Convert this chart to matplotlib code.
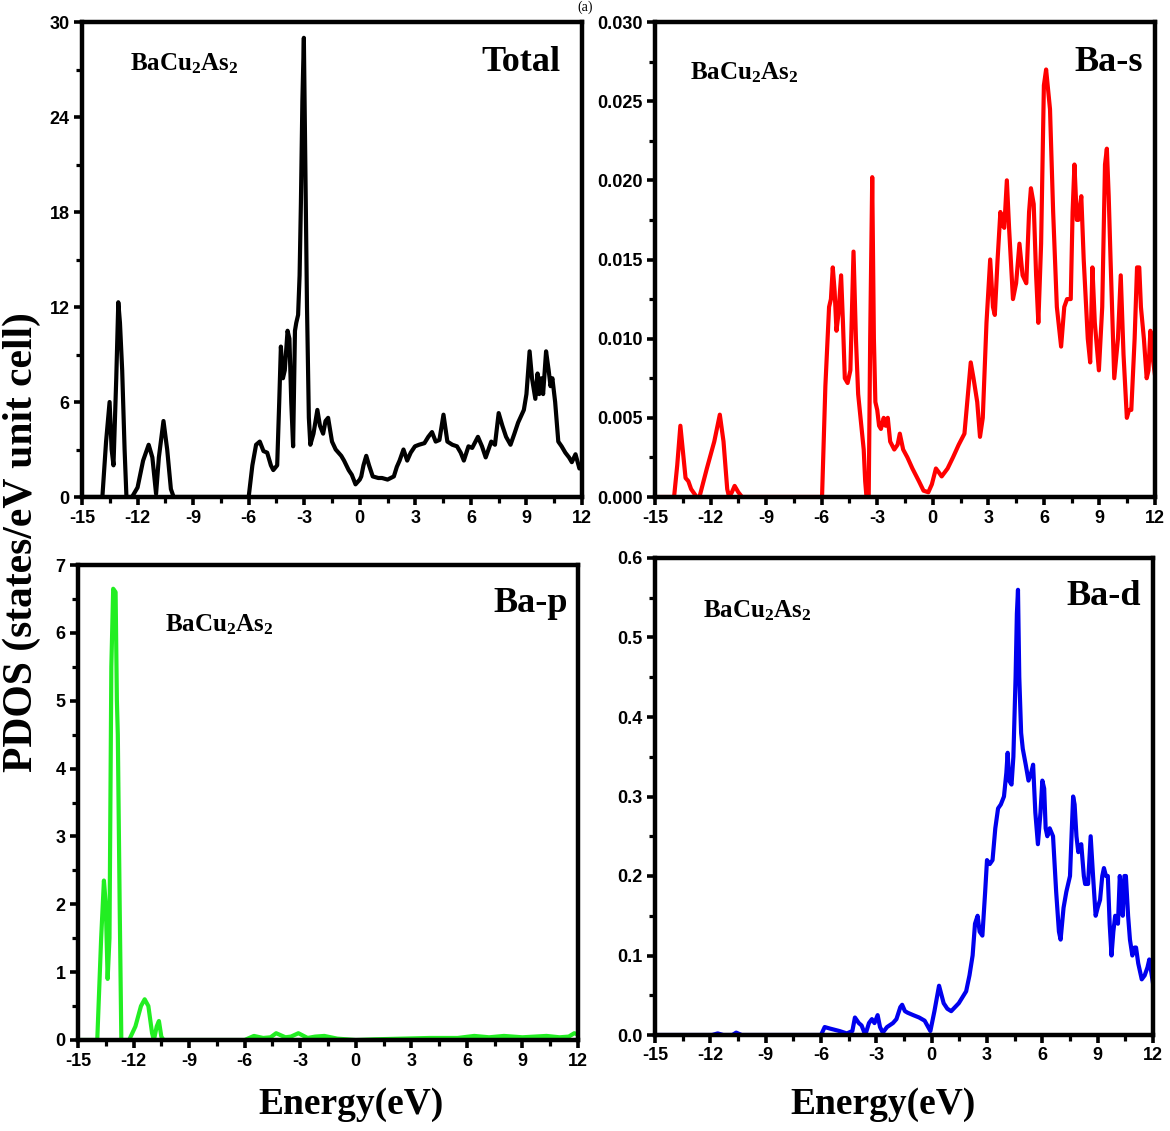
import matplotlib
matplotlib.use("Agg")
import matplotlib.pyplot as plt
from matplotlib import font_manager
from matplotlib.ticker import MultipleLocator, FormatStrFormatter

# ---------------- data ----------------
xticks = [-15, -12, -9, -6, -3, 0, 3, 6, 9, 12]

E_total = [-15, -13.9, -13.7, -13.51, -13.4, -13.3, -13.15, -13.04, -12.95, -12.83, -12.7, -12.6,
           -12.3, -12.0, -11.7, -11.4, -11.2, -11.0, -10.85, -10.6, -10.4, -10.2, -10.05,
           -6.0, -5.8, -5.6, -5.4, -5.2, -5.0, -4.8, -4.67, -4.46, -4.35, -4.26, -4.15, -4.05,
           -3.9, -3.8, -3.7, -3.6, -3.5, -3.43, -3.33, -3.25, -3.18, -3.1, -3.02, -2.95, -2.85,
           -2.75, -2.67, -2.5, -2.29, -2.15, -1.98, -1.85, -1.71, -1.5, -1.3, -1.0, -0.85, -0.6,
           -0.43, -0.23, 0.0, 0.08, 0.2, 0.35, 0.5, 0.7, 1.0, 1.2, 1.5, 1.84, 2.0, 2.15, 2.36,
           2.56, 2.75, 2.98, 3.2, 3.49, 3.7, 3.9, 4.1, 4.3, 4.52, 4.73, 5.0, 5.25, 5.45, 5.62,
           5.87, 6.07, 6.2, 6.38, 6.6, 6.8, 7.1, 7.3, 7.5, 7.7, 7.9, 8.14, 8.35, 8.55, 8.86, 9.0,
           9.17, 9.3, 9.48, 9.6, 9.69, 9.8, 9.9, 10.06, 10.2, 10.3, 10.4, 10.55, 10.72, 10.9,
           11.1, 11.3, 11.45, 11.65, 11.86, 12.0]
D_total = [0, 0, 3.5, 6.0, 3.0, 2.0, 7.5, 12.3, 11.0, 8.0, 3.0, 0,
           0, 0.6, 2.3, 3.3, 2.5, 0.2, 2.5, 4.8, 3.0, 0.5, 0,
           0, 2.0, 3.3, 3.5, 2.9, 2.8, 2.0, 1.7, 2.0, 6.0, 9.5, 7.5, 8.0,
           10.5, 10.0, 6.0, 3.2, 10.5, 11.0, 11.5, 14.0, 18.5, 25.0, 29.0, 22.0, 12.0,
           5.0, 3.3, 4.0, 5.5, 4.5, 4.0, 4.8, 5.0, 3.5, 3.0, 2.6, 2.3, 1.7,
           1.4, 0.8, 1.1, 1.3, 2.0, 2.6, 2.0, 1.3, 1.2, 1.2, 1.1, 1.3, 1.9, 2.3, 3.0,
           2.3, 2.8, 3.2, 3.3, 3.4, 3.8, 4.1, 3.5, 3.6, 5.2, 3.5, 3.3, 3.2, 2.8, 2.3,
           3.2, 3.1, 3.4, 3.8, 3.2, 2.5, 3.5, 3.3, 5.3, 4.5, 3.8, 3.3, 4.0, 4.7, 5.5, 6.5,
           9.2, 7.5, 6.2, 7.8, 6.5, 7.5, 6.5, 9.2, 8.0, 7.0, 7.5, 6.0, 3.5, 3.2,
           2.8, 2.5, 2.2, 2.7, 1.8, 2.0]

E_bas = [-15, -13.97, -13.8, -13.63, -13.5, -13.35, -13.2, -13.05, -12.75, -12.6, -12.2, -11.8,
         -11.5, -11.3, -11.1, -11.0, -10.85, -10.7, -10.5, -10.3, -5.98, -5.8, -5.6, -5.5, -5.4,
         -5.3, -5.2, -5.1, -4.95, -4.85, -4.75, -4.6, -4.45, -4.35, -4.28, -4.15, -4.03, -3.9,
         -3.73, -3.65, -3.58, -3.46, -3.38, -3.27, -3.18, -3.1, -3.0, -2.9, -2.8, -2.65, -2.55,
         -2.43, -2.3, -2.08, -1.9, -1.78, -1.6, -1.37, -1.1, -0.75, -0.5, -0.24, -0.05, 0.17,
         0.3, 0.48, 0.8, 1.09, 1.4, 1.71, 1.9, 2.05, 2.2, 2.4, 2.55, 2.7, 2.9, 3.1, 3.25, 3.35,
         3.5, 3.65, 3.75, 3.86, 4.0, 4.12, 4.33, 4.5, 4.68, 4.85, 5.05, 5.2, 5.3, 5.45, 5.58,
         5.7, 5.85, 6.0, 6.12, 6.33, 6.5, 6.7, 6.93, 7.1, 7.25, 7.45, 7.55, 7.65, 7.78, 7.86,
         8.02, 8.15, 8.37, 8.5, 8.62, 8.75, 8.97, 9.15, 9.3, 9.4, 9.5, 9.6, 9.8, 10.0, 10.15,
         10.3, 10.48, 10.6, 10.72, 10.9, 11.03, 11.15, 11.24, 11.4, 11.55, 11.65, 11.75, 11.85,
         12.0]
D_bas = [0, 0, 0.002, 0.0045, 0.003, 0.0012, 0.001, 0.0005, 0, 0, 0.0018, 0.0035,
         0.0052, 0.0035, 0.0005, 0, 0.0003, 0.0007, 0.0003, 0, 0, 0.007, 0.012, 0.0125, 0.0145,
         0.013, 0.0105, 0.0115, 0.014, 0.011, 0.0075, 0.0072, 0.008, 0.0125, 0.0155, 0.01, 0.0065, 0.005,
         0.003, 0.001, 0, 0, 0.01, 0.0202, 0.01, 0.006, 0.0055, 0.0045, 0.0043, 0.005, 0.0045,
         0.005, 0.0035, 0.003, 0.0033, 0.004, 0.003, 0.0025, 0.0018, 0.001, 0.0004, 0.0003, 0.0008, 0.0018,
         0.0016, 0.0013, 0.0018, 0.0025, 0.0033, 0.004, 0.0065, 0.0085, 0.0075, 0.006, 0.0038, 0.005, 0.011, 0.015, 0.012, 0.0115,
         0.015, 0.018, 0.0172, 0.017, 0.020, 0.017, 0.0125, 0.0135, 0.016, 0.014, 0.0135, 0.018, 0.0195, 0.0185, 0.014,
         0.011, 0.016, 0.026, 0.027, 0.0245, 0.018, 0.012, 0.0095, 0.012, 0.0125, 0.0125, 0.018, 0.021, 0.0175, 0.0175,
         0.019, 0.015, 0.010, 0.0085, 0.0145, 0.011, 0.008, 0.012, 0.021, 0.022, 0.019, 0.015, 0.0075, 0.010, 0.014,
         0.009, 0.005, 0.0055, 0.0055, 0.010, 0.0145, 0.0145, 0.012, 0.010, 0.0075, 0.008, 0.0105, 0.009,
         0.0077]

E_bap = [-15, -13.96, -13.75, -13.6, -13.5, -13.4, -13.3, -13.2, -13.1, -12.97, -12.9, -12.85,
         -12.75, -12.66, -12.24, -11.9, -11.6, -11.4, -11.2, -11.0, -10.9, -10.75, -10.63, -10.5,
         -10.38, -6.0, -5.5, -5.0, -4.6, -4.3, -3.8, -3.5, -3.1, -2.6, -2.2, -1.7, -1.0, 0.0, 1.0,
         2.5, 4.0, 5.5, 6.4, 7.2, 8.0, 9.0, 10.3, 11.0, 11.5, 11.8, 12.0]
D_bap = [0, 0, 1.5, 2.35, 2.0, 0.9, 1.5, 5.5, 6.65, 6.6, 5.0, 4.5,
         2.0, 0, 0, 0.2, 0.5, 0.6, 0.5, 0.1, 0, 0.2, 0.28, 0.05,
         0, 0, 0.06, 0.03, 0.04, 0.1, 0.04, 0.05, 0.1, 0.03, 0.05, 0.06, 0.02, 0.0, 0.01,
         0.02, 0.03, 0.03, 0.06, 0.04, 0.06, 0.04, 0.06, 0.04, 0.05, 0.1, 0.08]

E_bad = [-15, -11.9, -11.6, -11.3, -10.8, -10.6, -10.3, -6.0, -5.8, -5.5, -5.0, -4.6, -4.3,
         -4.16, -3.95, -3.8, -3.6, -3.4, -3.24, -3.1, -2.93, -2.8, -2.65, -2.42, -2.1, -1.91,
         -1.7, -1.6, -1.45, -1.3, -1.0, -0.68, -0.38, -0.07, 0.15, 0.4, 0.65, 0.85, 1.06, 1.47,
         1.87, 2.05, 2.22, 2.35, 2.49, 2.6, 2.75, 2.9, 3.0, 3.15, 3.3, 3.45, 3.6, 3.75, 3.92,
         4.05, 4.12, 4.2, 4.33, 4.43, 4.55, 4.62, 4.68, 4.75, 4.85, 4.94, 5.1, 5.25, 5.4, 5.5,
         5.62, 5.76, 5.9, 6.0, 6.1, 6.18, 6.27, 6.4, 6.58, 6.75, 6.9, 6.99, 7.15, 7.3, 7.5, 7.6,
         7.67, 7.75, 7.85, 7.95, 8.11, 8.25, 8.32, 8.48, 8.62, 8.75, 8.89, 9.0, 9.13, 9.25, 9.34,
         9.45, 9.55, 9.65, 9.75, 9.85, 9.95, 10.1, 10.2, 10.3, 10.36, 10.45, 10.53, 10.65, 10.75,
         10.88, 11.0, 11.08, 11.2, 11.39, 11.55, 11.7, 11.8, 11.9, 12.0]
D_bad = [0, 0, 0.002, 0.0, 0.0, 0.003, 0, 0, 0.01, 0.008, 0.005, 0.002, 0.005,
         0.022, 0.015, 0.012, 0.0, 0.015, 0.02, 0.015, 0.025, 0.01, 0.003, 0.01, 0.015, 0.02,
         0.035, 0.038, 0.03, 0.028, 0.025, 0.022, 0.018, 0.005, 0.03, 0.062, 0.04, 0.033, 0.03, 0.04,
         0.055, 0.075, 0.1, 0.14, 0.15, 0.13, 0.125, 0.18, 0.22, 0.215, 0.22, 0.26, 0.285, 0.29, 0.3,
         0.33, 0.355, 0.32, 0.315, 0.35, 0.45, 0.53, 0.56, 0.45, 0.38, 0.36, 0.34, 0.32, 0.33, 0.34,
         0.28, 0.24, 0.28, 0.32, 0.31, 0.26, 0.25, 0.26, 0.25, 0.18, 0.13, 0.12, 0.16, 0.18, 0.2, 0.26,
         0.3, 0.29, 0.25, 0.23, 0.24, 0.2, 0.19, 0.19, 0.25, 0.2, 0.15, 0.16, 0.17, 0.2, 0.21,
         0.2, 0.2, 0.14, 0.1, 0.13, 0.15, 0.14, 0.2, 0.17, 0.15, 0.2, 0.2, 0.15, 0.12,
         0.1, 0.11, 0.11, 0.09, 0.07, 0.075, 0.085, 0.095, 0.08, 0.065]

panel_labels = ["Total", "Ba-s", "Ba-p", "Ba-d"]
compound = r"$\mathrm{BaCu_{2}As_{2}}$"
colors = ["#000000", "#ff0000", "#22ee22", "#0000ee"]

# ---------------- style ----------------
plt.rcParams["axes.unicode_minus"] = False
plt.rcParams["mathtext.fontset"] = "custom"
plt.rcParams["mathtext.rm"] = "Liberation Serif:bold"
plt.rcParams["mathtext.it"] = "Liberation Serif:bold:italic"
plt.rcParams["mathtext.bf"] = "Liberation Serif:bold"

names = {f.name for f in font_manager.fontManager.ttflist}
tick_family = "Liberation Sans Narrow" if "Liberation Sans Narrow" in names else "Liberation Sans"
tick_size = 15 if tick_family == "Liberation Sans Narrow" else 13
serif = ["Liberation Serif", "DejaVu Serif"]

fig = plt.figure(figsize=(11.70, 11.31), dpi=100)

W, H = 1170.0, 1131.0
def rect(l, t, r, b):
    return [l / W, 1 - b / H, (r - l) / W, (b - t) / H]

panels = [
    dict(rect=rect(82, 22, 582, 497), E=E_total, D=D_total, ymax=30, ymaj=6, ymin=3, fmt="%d",
         lab_xy=(0.956, 0.915), cmp_xy=(0.096, 0.912)),
    dict(rect=rect(655, 22, 1155, 497), E=E_bas, D=D_bas, ymax=0.030, ymaj=0.005, ymin=0.0025, fmt="%.3f",
         lab_xy=(0.976, 0.915), cmp_xy=(0.07, 0.893)),
    dict(rect=rect(78, 565, 578, 1040), E=E_bap, D=D_bap, ymax=7, ymaj=1, ymin=0.5, fmt="%d",
         lab_xy=(0.98, 0.918), cmp_xy=(0.174, 0.874)),
    dict(rect=rect(655, 558, 1153, 1035), E=E_bad, D=D_bad, ymax=0.6, ymaj=0.1, ymin=0.05, fmt="%.1f",
         lab_xy=(0.976, 0.92), cmp_xy=(0.096, 0.889)),
]

for i, p in enumerate(panels):
    ax = fig.add_axes(p["rect"])
    ax.plot(p["E"], p["D"], color=colors[i], lw=3.0, solid_joinstyle="round")
    ax.set_xlim(-15, 12)
    ax.set_ylim(0, p["ymax"])
    ax.set_xticks(xticks)
    ax.xaxis.set_minor_locator(MultipleLocator(1.5))
    ax.yaxis.set_major_locator(MultipleLocator(p["ymaj"]))
    ax.yaxis.set_minor_locator(MultipleLocator(p["ymin"]))
    ax.yaxis.set_major_formatter(FormatStrFormatter(p["fmt"]))
    for s in ax.spines.values():
        s.set_linewidth(3.2)
    ax.tick_params(which="major", direction="out", length=6, width=2.6, pad=3)
    ax.tick_params(which="minor", direction="out", length=4, width=2.3)
    for lab in ax.get_xticklabels() + ax.get_yticklabels():
        lab.set_fontfamily(tick_family)
        lab.set_fontweight("bold")
        lab.set_fontsize(tick_size)
    ax.text(p["lab_xy"][0], p["lab_xy"][1], panel_labels[i], transform=ax.transAxes,
            ha="right", va="center", family=serif, weight="bold", fontsize=26)
    ax.text(p["cmp_xy"][0], p["cmp_xy"][1], compound, transform=ax.transAxes,
            ha="left", va="center", fontsize=18)

fig.text(0.019, 0.521, "PDOS (states/eV unit cell)", rotation=90, ha="center", va="center",
         family=serif, weight="bold", fontsize=30)
fig.text(351 / W, 1 - 1105 / H, "Energy(eV)", ha="center", va="center",
         family=serif, weight="bold", fontsize=27)
fig.text(883 / W, 1 - 1105 / H, "Energy(eV)", ha="center", va="center",
         family=serif, weight="bold", fontsize=27)
fig.text(0.5, 1 - 1 / H, "(a)", ha="center", va="top", family=serif, fontsize=10)

fig.savefig("out.png", dpi=100, facecolor="white")
